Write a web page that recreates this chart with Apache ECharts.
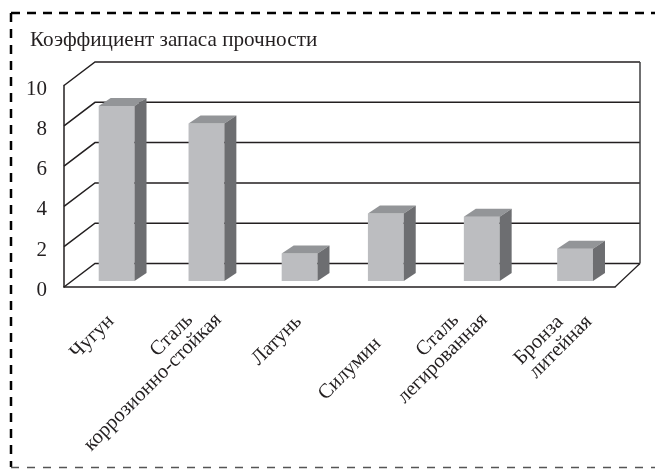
<!DOCTYPE html>
<html><head><meta charset="utf-8">
<style>html,body{margin:0;padding:0;background:#fff}#c{width:655px;height:469px}</style>
<script src="https://cdn.jsdelivr.net/npm/echarts@6/dist/echarts.min.js"></script>
</head><body><div id="c"></div>
<script>
const categories = ['Чугун', 'Сталь    \nкоррозионно-стойкая', 'Латунь', 'Силумин', 'Сталь    \nлегированная', 'Бронза    \nлитейная'];
const values = [8.68, 7.82, 1.36, 3.35, 3.19, 1.6];
const valueTicks = [0, 2, 4, 6, 8, 10];

// layout constants (pixels)
const depthL = [31, 23.5], depthR = [25, 23.5];
const barDepth = [12, 8], barLift = 6;
const barNudge = [6.7, 4.7, 6, 0.4, 4.5, 6];
const labelNudge = [[-6, 24], [-4.5, 8.5], [-2, 24.5], [-14.5, 46.5], [-14, 8.5], [-1.5, 10.5]];
const ink = '#231f20';

const chart = echarts.init(document.getElementById('c'), null, {renderer: 'canvas'});

function wallItem(params, api) {
  const cs = params.coordSys, v = api.value(1);
  const y = api.coord([0, v])[1], y0 = api.coord([0, 0])[1];
  const xL = cs.x, xR = cs.x + cs.width;
  const backR = xR + depthR[0];
  const children = [{
    type: 'polyline',
    shape: {points: [[xL, y], [xL + depthL[0], y - depthL[1]], [backR, y - depthL[1]]]},
    style: {stroke: ink, lineWidth: 1.5, fill: null}
  }];
  if (v === 10) children.push({
    type: 'line',
    shape: {x1: backR, y1: y - depthR[1], x2: backR, y2: y0 - depthR[1]},
    style: {stroke: '#414042', lineWidth: 1.5}
  });
  if (v === 0) children.push({
    type: 'line',
    shape: {x1: xR, y1: y, x2: backR, y2: y - depthR[1]},
    style: {stroke: ink, lineWidth: 1.2}
  });
  return {type: 'group', children};
}

function barItem(params, api) {
  const i = api.value(0), v = api.value(1);
  const w = api.size([1, 0])[0] * 0.39;
  const c = api.coord([i, v]), b = api.coord([i, 0]);
  const x0 = c[0] + barNudge[i] - w / 2, x1 = x0 + w;
  const yt = c[1] - barLift, yb = b[1] - barLift;
  const dx = barDepth[0], dy = barDepth[1];
  return {type: 'group', children: [
    {type: 'rect', shape: {x: x0, y: yt, width: w, height: yb - yt}, style: {fill: '#bcbdc0'}},
    {type: 'polygon', shape: {points: [[x0, yt], [x0 + dx, yt - dy], [x1 + dx, yt - dy], [x1, yt]]}, style: {fill: '#939598'}},
    {type: 'polygon', shape: {points: [[x1, yt], [x1 + dx, yt - dy], [x1 + dx, yb - dy], [x1, yb]]}, style: {fill: '#6d6e71'}}
  ]};
}

function labelItem(params, api) {
  const i = api.value(0);
  const c = api.coord([i, 0]);
  return {
    type: 'text',
    x: c[0] + labelNudge[i][0],
    y: c[1] + labelNudge[i][1],
    rotation: Math.PI / 4,
    style: {
      text: categories[i], x: 0, y: 0,
      align: 'right', verticalAlign: 'top',
      font: '20.5px "Liberation Serif"', lineHeight: 20, fill: ink
    }
  };
}

chart.setOption({
  backgroundColor: '#fff',
  animation: false,
  title: {
    text: 'Коэффициент запаса прочности', left: 25, top: 25,
    textStyle: {fontFamily: 'Liberation Serif', fontWeight: 'normal', fontSize: 21.2, color: ink}
  },
  grid: {left: 64, right: 40, top: 85.5, bottom: 182},
  xAxis: {
    type: 'category', data: categories,
    axisLine: {lineStyle: {color: ink, width: 1.5}},
    axisTick: {show: false}, axisLabel: {show: false}
  },
  yAxis: {
    type: 'value', min: 0, max: 10, interval: 2,
    axisLine: {show: true, lineStyle: {color: ink, width: 1.5}},
    axisTick: {show: false}, splitLine: {show: false},
    axisLabel: {fontFamily: 'Liberation Serif', fontSize: 21, color: ink, margin: 17, verticalAlign: 'top', lineHeight: 7}
  },
  series: [
    {type: 'custom', z: 1, data: valueTicks.map(v => [0, v]), renderItem: wallItem, silent: true, clip: false},
    {type: 'custom', z: 2, data: values.map((v, i) => [i, v]), renderItem: barItem, silent: true, clip: false},
    {type: 'custom', z: 3, data: categories.map((c, i) => [i, 0]), renderItem: labelItem, silent: true, clip: false}
  ],
  graphic: [
    {type: 'line', z: 10, shape: {x1: 11, y1: 13, x2: 655, y2: 13}, style: {stroke: '#000', lineWidth: 2.5, lineDash: [9, 7]}},
    {type: 'line', z: 10, shape: {x1: 11, y1: 13, x2: 11, y2: 467}, style: {stroke: '#000', lineWidth: 2.5, lineDash: [9, 7]}},
    {type: 'line', z: 10, shape: {x1: 11, y1: 467.5, x2: 655, y2: 467.5}, style: {stroke: '#555', lineWidth: 1.5, lineDash: [8, 8]}}
  ]
});
</script></body></html>
